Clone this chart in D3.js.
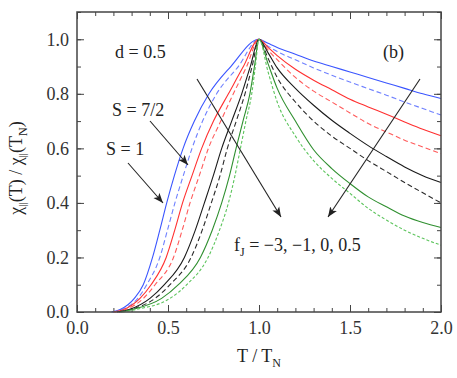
<!DOCTYPE html>
<html>
<head>
<meta charset="utf-8">
<script src="https://cdn.jsdelivr.net/npm/d3@7"></script>
<style>
  body { margin: 0; background: #fff; }
  svg text, svg tspan { font-family: "Liberation Serif", "Times New Roman", Tinos !important; }
  .tick line { stroke: #444; }
</style>
</head>
<body>
<script>
// T / T_N versus chi_par(T) / chi_par(T_N), d = 0.5
const FONT = '"Liberation Serif", "Times New Roman", Tinos';
const xTicks = [0.0, 0.5, 1.0, 1.5, 2.0];
const yTicks = [0.0, 0.2, 0.4, 0.6, 0.8, 1.0];

// S = 1 (solid) and S = 7/2 (dashed), one pair per f_J = -3, -1, 0, 0.5
const blueS1 = [[0.19,0],[0.24,0.01],[0.315,0.05],[0.364,0.1],[0.415,0.2],[0.455,0.3],[0.493,0.4],[0.535,0.5],[0.583,0.6],[0.645,0.7],[0.725,0.8],[0.845,0.9],[1.0,1.0],
  [1.05,0.985],[1.1,0.97],[1.2,0.945],[1.3,0.92],[1.4,0.90],[1.5,0.88],[1.6,0.86],[1.7,0.84],[1.8,0.82],[1.9,0.80],[2.0,0.783]];
const blueS72 = [[0.2,0],[0.25,0.01],[0.334,0.05],[0.383,0.1],[0.455,0.2],[0.497,0.3],[0.538,0.4],[0.584,0.5],[0.632,0.6],[0.69,0.7],[0.767,0.8],[0.886,0.9],[1.0,1.0],
  [1.05,0.975],[1.1,0.955],[1.2,0.925],[1.3,0.895],[1.4,0.868],[1.5,0.843],[1.6,0.819],[1.7,0.795],[1.8,0.77],[1.9,0.746],[2.0,0.722]];
const redS1 = [[0.2,0],[0.26,0.01],[0.346,0.05],[0.407,0.1],[0.49,0.2],[0.537,0.3],[0.58,0.4],[0.632,0.5],[0.685,0.6],[0.75,0.7],[0.832,0.8],[0.914,0.9],[1.0,1.0],
  [1.05,0.97],[1.1,0.94],[1.2,0.89],[1.3,0.85],[1.4,0.815],[1.5,0.78],[1.6,0.752],[1.7,0.725],[1.8,0.697],[1.9,0.67],[2.0,0.646]];
const redS72 = [[0.21,0],[0.27,0.01],[0.365,0.05],[0.429,0.1],[0.53,0.2],[0.578,0.3],[0.621,0.4],[0.672,0.5],[0.722,0.6],[0.79,0.7],[0.859,0.8],[0.932,0.9],[1.0,1.0],
  [1.05,0.96],[1.1,0.925],[1.2,0.86],[1.3,0.81],[1.4,0.77],[1.5,0.73],[1.6,0.691],[1.7,0.66],[1.8,0.63],[1.9,0.605],[2.0,0.581]];
const blackS1 = [[0.22,0],[0.29,0.01],[0.401,0.05],[0.48,0.1],[0.59,0.2],[0.65,0.3],[0.70,0.4],[0.749,0.5],[0.795,0.6],[0.85,0.7],[0.905,0.8],[0.952,0.9],[1.0,1.0],
  [1.05,0.95],[1.1,0.895],[1.2,0.82],[1.3,0.758],[1.4,0.703],[1.5,0.655],[1.6,0.61],[1.7,0.57],[1.8,0.532],[1.9,0.50],[2.0,0.475]];
const blackS72 = [[0.23,0],[0.30,0.01],[0.429,0.05],[0.511,0.1],[0.627,0.2],[0.688,0.3],[0.738,0.4],[0.786,0.5],[0.826,0.6],[0.875,0.7],[0.923,0.8],[0.962,0.9],[1.0,1.0],
  [1.05,0.93],[1.1,0.86],[1.2,0.77],[1.3,0.70],[1.4,0.645],[1.5,0.60],[1.6,0.555],[1.7,0.515],[1.8,0.475],[1.9,0.437],[2.0,0.40]];
const greenS1 = [[0.24,0],[0.31,0.01],[0.465,0.05],[0.557,0.1],[0.678,0.2],[0.743,0.3],[0.795,0.4],[0.838,0.5],[0.874,0.6],[0.912,0.7],[0.95,0.8],[0.975,0.9],[1.0,1.0],
  [1.05,0.91],[1.1,0.82],[1.2,0.70],[1.3,0.595],[1.4,0.526],[1.5,0.471],[1.6,0.422],[1.7,0.386],[1.8,0.352],[1.9,0.328],[2.0,0.31]];
const greenS72 = [[0.25,0],[0.33,0.01],[0.511,0.05],[0.603,0.1],[0.72,0.2],[0.783,0.3],[0.832,0.4],[0.868,0.5],[0.898,0.6],[0.928,0.7],[0.96,0.8],[0.98,0.9],[1.0,1.0],
  [1.05,0.88],[1.1,0.77],[1.2,0.645],[1.3,0.555],[1.4,0.49],[1.5,0.435],[1.6,0.38],[1.7,0.337],[1.8,0.30],[1.9,0.27],[2.0,0.245]];

const series = [
  { pts: blueS1,   color: '#3a55ff', dash: null },
  { pts: blueS72,  color: '#6f80ff', dash: '5,3' },
  { pts: redS1,    color: '#ff3030', dash: null },
  { pts: redS72,   color: '#ff5a5a', dash: '5,3' },
  { pts: blackS1,  color: '#1a1a1a', dash: null },
  { pts: blackS72, color: '#2a2a2a', dash: '5,3' },
  { pts: greenS1,  color: '#2f8f2f', dash: null },
  { pts: greenS72, color: '#5cc45c', dash: '3,2' }
];

const W = 457, H = 378;
const M = { left: 77, right: 16, top: 12, bottom: 66 };
const iw = W - M.left - M.right, ih = H - M.top - M.bottom;

const svg = d3.select('body').append('svg').attr('width', W).attr('height', H)
    .style('font-family', FONT);

const defs = svg.append('defs');
defs.append('marker')
    .attr('id', 'head')
    .attr('viewBox', '0 0 10 10')
    .attr('refX', 10).attr('refY', 5)
    .attr('markerWidth', 10).attr('markerHeight', 10)
    .attr('markerUnits', 'userSpaceOnUse')
    .attr('orient', 'auto')
  .append('path')
    .attr('d', 'M0,1 L10,5 L0,9 L2.5,5 Z')
    .attr('fill', '#222');

const g = svg.append('g').attr('transform', `translate(${M.left},${M.top})`);

const x = d3.scaleLinear().domain([0, 2]).range([0, iw]);
const y = d3.scaleLinear().domain([0, 1.1]).range([ih, 0]);

const minorX = d3.range(0, 2.0001, 0.1);
const minorY = d3.range(0, 1.1001, 0.1);

// minor ticks, all four sides
g.append('g').attr('transform', `translate(0,${ih})`)
  .call(d3.axisBottom(x).tickValues(minorX).tickSize(-4).tickSizeOuter(0).tickFormat(''));
g.append('g')
  .call(d3.axisTop(x).tickValues(minorX).tickSize(-4).tickSizeOuter(0).tickFormat(''));
g.append('g')
  .call(d3.axisLeft(y).tickValues(minorY).tickSize(-4).tickSizeOuter(0).tickFormat(''));
g.append('g').attr('transform', `translate(${iw},0)`)
  .call(d3.axisRight(y).tickValues(minorY).tickSize(-4).tickSizeOuter(0).tickFormat(''));

// major ticks
g.append('g').attr('transform', `translate(0,${ih})`)
  .call(d3.axisBottom(x).tickValues(xTicks).tickSize(-7).tickSizeOuter(0).tickPadding(9).tickFormat(d3.format('.1f')));
g.append('g')
  .call(d3.axisTop(x).tickValues(xTicks).tickSize(-7).tickSizeOuter(0).tickFormat(''));
g.append('g')
  .call(d3.axisLeft(y).tickValues(yTicks).tickSize(-7).tickSizeOuter(0).tickPadding(8).tickFormat(d3.format('.1f')));
g.append('g').attr('transform', `translate(${iw},0)`)
  .call(d3.axisRight(y).tickValues(yTicks).tickSize(-7).tickSizeOuter(0).tickFormat(''));

g.selectAll('.domain').remove();
g.selectAll('g').attr('font-family', null).attr('font-size', null);
g.selectAll('.tick text').attr('fill', '#333').style('font-size', '18px');

// curves
const line = d3.line().x(d => x(d[0])).y(d => y(d[1])).curve(d3.curveMonotoneX);
g.selectAll('path.curve').data(series)
  .enter().append('path')
    .attr('class', 'curve')
    .attr('d', d => line(d.pts))
    .attr('fill', 'none')
    .attr('stroke', d => d.color)
    .attr('stroke-width', 1.1)
    .attr('stroke-dasharray', d => d.dash);

// frame
g.append('rect').attr('width', iw).attr('height', ih)
  .attr('fill', 'none').attr('stroke', '#444').attr('stroke-width', 1.5);

// arrows (pixel positions of annotations)
const arrows = [
  [150, 121, 188, 165],
  [128, 163, 163, 203],
  [197, 79, 281, 217],
  [420, 79, 328, 217]
];
svg.selectAll('line.arrow').data(arrows)
  .enter().append('line')
    .attr('class', 'arrow')
    .attr('x1', d => d[0]).attr('y1', d => d[1])
    .attr('x2', d => d[2]).attr('y2', d => d[3])
    .attr('stroke', '#222').attr('stroke-width', 1.1)
    .attr('marker-end', 'url(#head)');

const addText = (xx, yy) => svg.append('text').attr('x', xx).attr('y', yy)
    .style('font-size', '18px').attr('fill', '#222');

addText(115, 58).text('d = 0.5');
addText(383, 58).text('(b)');
addText(112, 116).text('S = 7/2');
addText(106, 155).text('S = 1');

const fj = addText(234, 251);
fj.append('tspan').text('f');
fj.append('tspan').style('font-size', '12px').attr('dy', 5).text('J');
fj.append('tspan').attr('dy', -5).text(' = \u22123, \u22121, 0, 0.5');

// axis labels
const xl = addText(M.left + iw / 2, 362).attr('text-anchor', 'middle');
xl.append('tspan').text('T / T');
xl.append('tspan').style('font-size', '12px').attr('dy', 5).text('N');

const yl = addText(0, 0)
    .attr('transform', `translate(22,${M.top + ih / 2 + 6}) rotate(-90)`)
    .attr('text-anchor', 'middle');
yl.append('tspan').text('\u03c7');
yl.append('tspan').style('font-size', '11px').attr('dy', 4).text('||');
yl.append('tspan').attr('dy', -4).text('(T) / \u03c7');
yl.append('tspan').style('font-size', '11px').attr('dy', 4).text('||');
yl.append('tspan').attr('dy', -4).text('(T');
yl.append('tspan').style('font-size', '12px').attr('dy', 5).text('N');
yl.append('tspan').attr('dy', -5).text(')');
</script>
</body>
</html>
